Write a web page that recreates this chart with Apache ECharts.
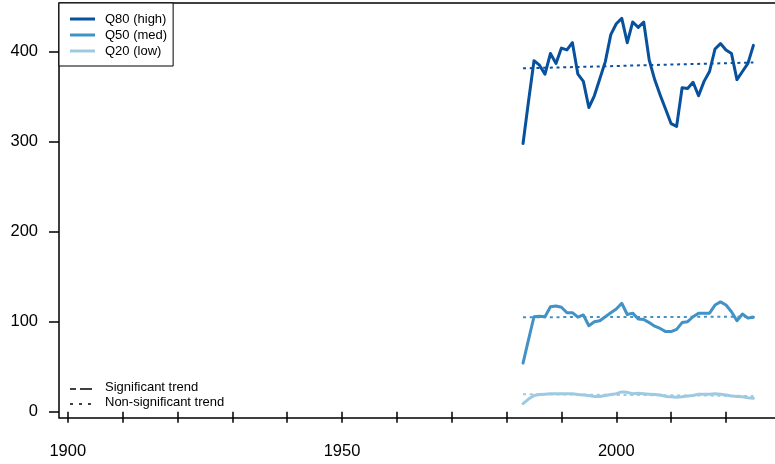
<!DOCTYPE html>
<html>
<head>
<meta charset="utf-8">
<script src="https://cdn.jsdelivr.net/npm/echarts@6/dist/echarts.min.js"></script>
<style>
  html, body { margin: 0; padding: 0; background: #fff; }
  #chart { width: 775px; height: 464px; }
</style>
</head>
<body>
<div id="chart"></div>
<script>
// years of record
var years = [1983, 1984, 1985, 1986, 1987, 1988, 1989, 1990, 1991, 1992,
  1993, 1994, 1995, 1996, 1997, 1998, 1999, 2000, 2001, 2002,
  2003, 2004, 2005, 2006, 2007, 2008, 2009, 2010, 2011, 2012,
  2013, 2014, 2015, 2016, 2017, 2018, 2019, 2020, 2021, 2022,
  2023, 2024, 2025];

// quantile series
var q80 = [298, 345, 390, 385, 375, 398, 387, 404, 402, 410,
  375, 367, 338, 351, 370, 389, 419, 431, 437, 410,
  433, 427, 433, 391, 369, 352, 336, 320, 317, 360,
  359, 366, 351, 367, 378, 403, 409, 402, 398, 369,
  378, 387, 407];
var q50 = [54, 80, 105.5, 106, 105.5, 116.5, 117.5, 116, 110, 110,
  105, 107.5, 95.5, 100, 101, 105.5, 110, 114, 120.5, 108,
  109.5, 103, 102.5, 99, 95, 92.5, 89, 89, 91.5, 99,
  100, 105.5, 109.5, 109.5, 109.5, 118.5, 122, 118.5, 111, 101,
  108.5, 104, 105];
var q20 = [9, 14, 18, 19, 19.5, 20, 20, 20, 20, 20,
  19, 18.5, 18, 17, 17, 18, 19, 20, 22, 21.5,
  20, 20.5, 20, 19.5, 19, 18.5, 17, 16.5, 16, 16.5,
  17.5, 18, 19.5, 19.5, 19.5, 20, 19.5, 18.5, 17.5, 17,
  16.5, 15.5, 15];

// trend lines: value at first and last year (all non-significant)
var trendYears = [1983, 2025];
var trend80 = [381.5, 388];
var trend50 = [105, 105.5];
var trend20 = [19.5, 17.5];

var yTicks = [0, 100, 200, 300, 400];
var xTicks = [1900, 1910, 1920, 1930, 1940, 1950, 1960, 1970, 1980, 1990, 2000, 2010, 2020];
var xLabels = [1900, 1950, 2000];

var names = ['Q80 (high)', 'Q50 (med)', 'Q20 (low)'];
var colors = ['#08519c', '#4292c6', '#9ecae1'];

var FONT = '"Liberation Sans", Arial, sans-serif';

function pairs(xs, ys) {
  var out = [];
  for (var i = 0; i < xs.length; i++) out.push([xs[i], ys[i]]);
  return out;
}

function dataLine(name, values, color) {
  return {
    name: name,
    type: 'line',
    data: pairs(years, values),
    symbol: 'none',
    silent: true,
    lineStyle: { color: color, width: 3, cap: 'round', join: 'round' },
    itemStyle: { color: color },
    z: 2
  };
}

function trendLine(values, color) {
  return {
    type: 'line',
    data: pairs(trendYears, values),
    symbol: 'none',
    silent: true,
    lineStyle: { color: color, width: 2, type: [3, 3.7] },
    z: 3
  };
}

var chart = echarts.init(document.getElementById('chart'), null, { renderer: 'canvas' });

chart.setOption({
  animation: false,
  backgroundColor: '#fff',
  grid: {
    show: true,
    outerBoundsMode: 'none',
    containLabel: false,
    left: 59, top: 3, right: -10, bottom: 46,
    borderColor: '#000', borderWidth: 1.5,
    backgroundColor: 'transparent'
  },
  xAxis: {
    type: 'value',
    min: 1898.4,
    max: 2030.76,
    splitLine: { show: false },
    axisLine: { show: false },
    axisTick: { show: true, length: 11, customValues: xTicks, lineStyle: { color: '#000', width: 1.5 } },
    axisLabel: {
      customValues: xLabels,
      formatter: function (v) { return String(v); },
      margin: 25,
      color: '#000',
      fontFamily: FONT,
      fontSize: 16.5
    }
  },
  yAxis: {
    type: 'value',
    min: -7,
    max: 454.1,
    splitLine: { show: false },
    axisLine: { show: false },
    axisTick: { show: true, length: 10, customValues: yTicks, lineStyle: { color: '#000', width: 1.5 } },
    axisLabel: {
      customValues: yTicks,
      margin: 21,
      color: '#000',
      fontFamily: FONT,
      fontSize: 16.5
    }
  },
  legend: {
    data: names,
    orient: 'vertical',
    left: 59,
    top: 3,
    icon: 'rect',
    itemWidth: 25,
    itemHeight: 3,
    itemGap: 0,
    padding: [8, 6, 7, 11],
    borderColor: '#000',
    borderWidth: 1,
    borderRadius: 0,
    backgroundColor: '#fff',
    selectedMode: false,
    textStyle: {
      color: '#000',
      fontFamily: FONT,
      fontSize: 13,
      lineHeight: 16,
      padding: [0, 0, 0, 5]
    }
  },
  graphic: [
    { type: 'line', shape: { x1: 70, y1: 389, x2: 76, y2: 389 }, style: { stroke: '#000', lineWidth: 1.5 } },
    { type: 'line', shape: { x1: 80, y1: 389, x2: 92, y2: 389 }, style: { stroke: '#000', lineWidth: 1.5 } },
    { type: 'text', left: 105, top: 381, style: { text: 'Significant trend', fill: '#000', font: '13px ' + FONT } },
    { type: 'line', shape: { x1: 70, y1: 404, x2: 92, y2: 404 }, style: { stroke: '#000', lineWidth: 1.5, lineDash: [3, 6] } },
    { type: 'text', left: 105, top: 396, style: { text: 'Non-significant trend', fill: '#000', font: '13px ' + FONT } }
  ],
  series: [
    dataLine(names[0], q80, colors[0]),
    dataLine(names[1], q50, colors[1]),
    dataLine(names[2], q20, colors[2]),
    trendLine(trend80, colors[0]),
    trendLine(trend50, colors[1]),
    trendLine(trend20, colors[2])
  ]
});
</script>
</body>
</html>
